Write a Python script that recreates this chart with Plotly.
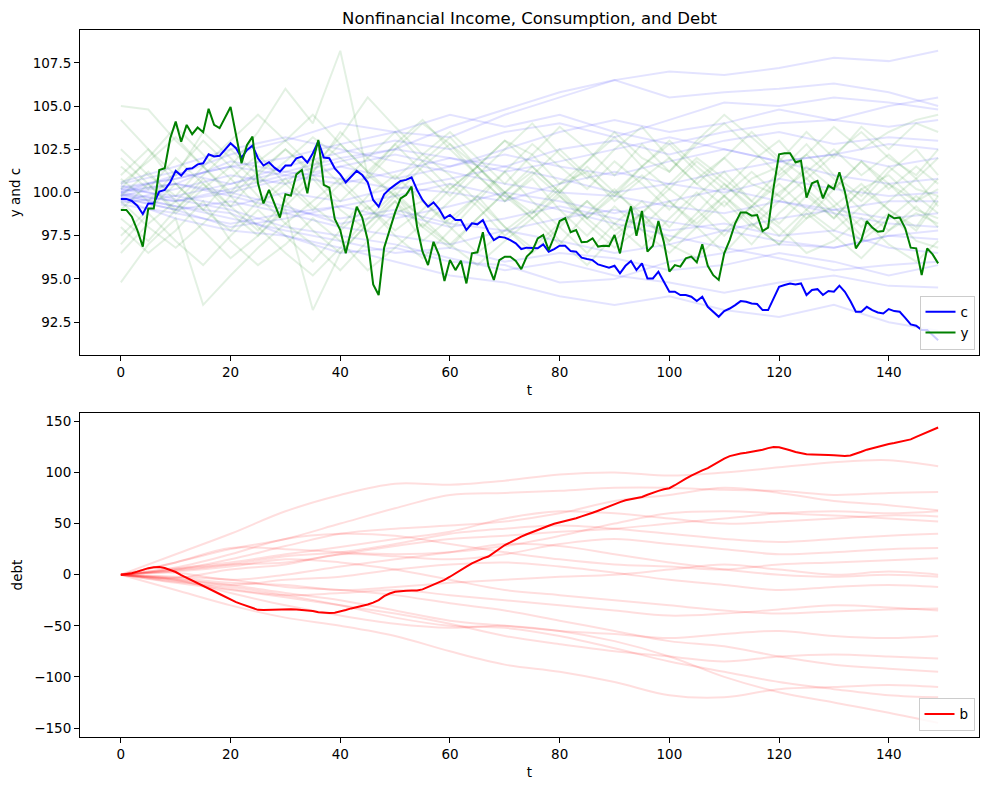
import plotly.graph_objects as go

# ---------------- data ----------------
t = list(range(150))

c = [99.63, 99.63, 99.51, 99.24, 98.76, 99.37, 99.37, 100.05, 100.15, 100.59,
     101.25, 100.98, 101.36, 101.40, 101.63, 101.69, 102.21, 102.08, 102.12, 102.46,
     102.85, 102.56, 102.02, 102.46, 102.71, 101.98, 101.56, 101.75, 101.44, 101.21,
     101.56, 101.56, 101.98, 102.08, 101.73, 102.27, 102.95, 102.02, 101.98, 101.40,
     101.05, 100.59, 100.92, 101.25, 101.01, 100.59, 99.57, 99.18, 99.90, 100.20,
     100.44, 100.67, 100.73, 100.88, 100.15, 99.57, 99.18, 99.43, 99.05, 98.51,
     98.70, 98.41, 98.41, 97.83, 98.22, 98.16, 98.41, 97.73, 97.25, 97.44,
     97.39, 97.25, 97.06, 96.73, 96.81, 96.81, 96.77, 97.00, 96.58, 96.73,
     96.92, 96.92, 96.61, 96.58, 96.23, 96.15, 96.09, 95.84, 95.76, 95.65,
     95.76, 95.32, 95.76, 96.04, 95.51, 95.90, 95.03, 95.03, 95.42, 94.84,
     94.26, 94.26, 94.07, 94.07, 93.97, 93.72, 93.97, 93.39, 93.10, 92.81,
     93.14, 93.29, 93.49, 93.72, 93.68, 93.58, 93.55, 93.20, 93.20, 93.87,
     94.55, 94.65, 94.74, 94.68, 94.74, 94.07, 94.36, 94.41, 94.07, 94.30,
     94.26, 94.61, 94.26, 93.72, 93.10, 93.10, 93.39, 93.20, 93.06, 93.00,
     93.26, 93.14, 93.10, 92.75, 92.37, 92.29, 92.04, 92.04, 91.75, 91.46]

y = [98.99, 98.99, 98.60, 97.83, 96.87, 99.08, 99.08, 101.30, 101.40, 103.14,
     104.10, 102.94, 103.91, 103.37, 103.76, 103.49, 104.84, 103.91, 103.72, 104.33,
     104.95, 103.33, 101.69, 102.75, 103.23, 100.53, 99.37, 100.15, 99.37, 98.55,
     99.90, 99.82, 101.05, 101.30, 99.95, 101.79, 103.04, 100.44, 100.28, 98.47,
     97.83, 96.48, 97.83, 99.18, 98.55, 97.25, 94.68, 94.07, 96.81, 97.83,
     98.85, 99.66, 99.86, 100.34, 98.02, 96.58, 95.80, 97.15, 96.38, 94.88,
     96.09, 95.51, 96.05, 94.74, 96.48, 96.54, 97.70, 95.76, 94.94, 96.09,
     96.29, 96.29, 96.04, 95.57, 96.29, 96.61, 97.35, 97.54, 96.67, 97.44,
     98.35, 98.51, 97.70, 97.83, 97.12, 97.15, 97.35, 96.87, 96.92, 96.90,
     97.54, 96.48, 98.06, 99.20, 97.50, 98.93, 96.58, 96.92, 98.35, 97.12,
     95.42, 95.80, 95.71, 96.19, 96.29, 95.96, 97.00, 95.76, 95.22, 94.94,
     96.48, 97.25, 98.22, 98.85, 98.85, 98.66, 98.70, 97.77, 97.97, 100.28,
     102.21, 102.27, 102.27, 101.75, 101.84, 99.70, 100.53, 100.67, 99.66, 100.40,
     100.20, 101.17, 100.05, 98.51, 96.77, 97.25, 98.35, 97.97, 97.73, 97.77,
     98.70, 98.51, 98.55, 97.93, 96.81, 96.77, 95.22, 96.77, 96.42, 95.90]

b = [0.0, 0.6, 1.5, 3.0, 4.8, 6.4, 7.3, 7.4, 6.5, 4.8,
     2.6, -0.5, -3.0, -5.8, -8.3, -10.8, -13.5, -16.2, -18.9, -21.6,
     -24.3, -26.8, -28.8, -30.8, -32.8, -34.4, -34.5, -34.3, -34.0, -33.6,
     -33.4, -33.7, -34.0, -34.3, -34.8, -35.6, -36.7, -37.4, -37.6, -37.2,
     -36.2, -34.6, -33.0, -31.8, -30.8, -29.2, -27.4, -24.8, -21.0, -18.4,
     -16.8, -16.0, -15.6, -15.4, -15.4, -14.4, -12.2, -9.8, -7.4, -5.0,
     -2.0, 1.0, 4.4, 7.8, 11.0, 13.6, 16.0, 17.8, 21.6, 25.8,
     29.0, 31.6, 34.6, 37.2, 39.6, 41.8, 43.8, 45.8, 47.9, 49.8,
     51.0, 52.3, 53.8, 55.2, 57.0, 58.6, 60.6, 62.6, 64.8, 66.8,
     69.0, 71.0, 72.8, 73.8, 74.8, 76.0, 78.2, 80.4, 82.0, 83.5,
     84.6, 87.5, 91.0, 94.0, 97.0, 99.8, 102.0, 104.3, 107.5, 110.6,
     113.6, 116.0, 117.6, 118.6, 119.4, 120.2, 121.0, 122.2, 123.8, 125.0,
     124.6, 123.5, 121.8, 120.0, 118.6, 117.8, 117.6, 117.6, 117.4, 117.1,
     116.8, 116.4, 116.0, 116.6, 118.2, 120.3, 122.3, 123.8, 125.2, 126.6,
     127.8, 128.8, 129.8, 130.7, 132.4, 134.8, 137.2, 139.6, 141.8, 144.0]

# faint background paths, sampled coarsely
t_bg10 = [0, 10, 20, 30, 40, 50, 60, 70, 80, 90, 100, 110, 120, 130, 140, 149]
t_bg5 = list(range(0, 150, 5)) + [149]

c_paths_bg = [
    [100.3, 100.8, 101.5, 102.0, 102.8, 103.5, 103.2, 104.5, 105.5, 106.5, 107.0, 106.8, 107.2, 107.8, 107.6, 108.2],
    [99.8, 100.5, 101.8, 101.2, 102.0, 102.5, 103.8, 104.8, 105.8, 106.5, 105.5, 105.8, 106.0, 106.3, 105.8, 105.0],
    [100.5, 101.2, 100.5, 101.5, 102.3, 103.0, 102.5, 103.5, 104.0, 103.2, 104.2, 105.2, 105.0, 105.5, 105.2, 104.8],
    [100.0, 99.5, 100.2, 101.0, 100.5, 101.2, 102.0, 101.5, 102.5, 103.0, 102.2, 103.0, 103.5, 102.8, 103.2, 103.0],
    [99.5, 100.2, 101.0, 100.5, 101.5, 100.8, 101.5, 102.2, 101.5, 101.0, 101.8, 102.5, 101.8, 102.2, 101.5, 102.0],
    [100.2, 99.8, 99.2, 100.0, 99.5, 100.3, 100.0, 99.5, 100.5, 101.2, 100.5, 100.0, 100.8, 100.2, 99.8, 100.0],
    [99.7, 99.0, 99.5, 98.8, 99.2, 98.5, 99.2, 100.0, 99.5, 98.8, 99.5, 100.2, 99.5, 99.0, 99.5, 99.5],
    [100.1, 100.5, 99.8, 99.0, 98.5, 99.0, 98.2, 97.8, 98.5, 99.0, 98.3, 97.8, 98.5, 99.0, 98.5, 98.8],
    [99.3, 98.8, 98.2, 98.8, 98.0, 97.5, 97.0, 97.8, 97.2, 96.5, 97.0, 97.8, 97.2, 96.8, 97.5, 97.3],
    [99.9, 99.2, 98.5, 97.8, 97.2, 96.5, 96.8, 96.0, 96.5, 96.2, 95.5, 95.8, 96.5, 96.0, 95.2, 95.8],
    [100.4, 99.6, 99.0, 98.0, 97.5, 97.0, 96.2, 95.5, 96.0, 95.2, 94.8, 94.2, 94.8, 95.2, 94.6, 94.5],
    [99.6, 98.5, 97.8, 97.5, 96.8, 96.0, 95.2, 94.8, 94.0, 93.5, 94.0, 93.2, 92.8, 93.5, 92.5, 92.0],
    [100.0, 101.0, 102.2, 103.0, 104.0, 103.5, 104.5, 103.8, 104.5, 103.5, 102.8, 103.5, 104.0, 104.2, 105.0, 105.5],
    [99.8, 99.2, 98.8, 97.5, 96.5, 96.8, 96.0, 95.8, 94.8, 95.0, 96.0, 96.5, 97.0, 96.8, 97.5, 97.8],
    [100.2, 100.8, 101.5, 101.0, 101.8, 102.5, 102.0, 101.2, 101.8, 102.5, 103.2, 102.5, 101.8, 102.2, 102.8, 102.5],
    [99.4, 99.8, 100.5, 101.2, 100.8, 100.2, 100.8, 101.5, 100.8, 100.0, 100.5, 101.2, 101.8, 101.0, 100.5, 100.8],
    [100.6, 101.5, 102.5, 103.2, 102.5, 101.8, 101.2, 100.5, 100.0, 99.8, 99.2, 98.8, 99.5, 98.8, 98.2, 98.0],
    [99.9, 99.5, 100.0, 99.2, 98.2, 98.8, 98.0, 98.5, 99.2, 98.5, 97.8, 98.2, 97.5, 97.8, 96.8, 96.5],
    [100.0, 100.5, 100.0, 100.8, 101.5, 102.2, 101.5, 102.5, 103.5, 104.2, 103.5, 104.0, 104.8, 104.2, 103.8, 104.2],
    [99.7, 99.0, 98.0, 98.5, 99.2, 99.8, 100.5, 99.8, 99.0, 98.2, 97.5, 96.8, 96.2, 95.5, 95.8, 96.0],
]

y_paths_bg = [
    [104.2, 102.5, 101.0, 103.5, 102.0, 100.5, 101.8, 103.2, 102.0, 100.8, 102.5, 104.0, 102.8, 101.5, 103.0, 102.2, 100.5, 101.8, 103.5, 102.0, 101.2, 102.8, 104.0, 102.5, 101.0, 102.2, 103.8, 102.5, 103.5, 104.2, 104.5],
    [105.0, 104.8, 103.0, 101.5, 99.8, 101.2, 102.5, 101.0, 99.5, 101.0, 99.8, 98.5, 100.2, 101.5, 100.0, 98.8, 100.5, 101.2, 99.5, 100.8, 102.0, 100.5, 99.2, 100.8, 101.5, 100.0, 98.5, 100.2, 101.0, 99.5, 100.2],
    [96.5, 98.2, 99.5, 97.8, 96.2, 97.5, 99.0, 93.2, 96.5, 98.2, 99.5, 97.2, 98.5, 99.8, 98.0, 96.8, 98.2, 99.5, 97.8, 98.8, 97.2, 98.5, 99.8, 98.2, 97.0, 98.5, 99.2, 97.5, 98.8, 97.2, 96.8],
    [94.8, 97.0, 98.5, 93.5, 95.2, 96.8, 98.2, 97.0, 95.5, 97.2, 98.8, 99.5, 98.0, 96.5, 97.8, 99.0, 97.2, 95.8, 97.5, 98.8, 97.0, 96.2, 97.8, 99.2, 98.0, 96.5, 97.2, 98.5, 97.0, 96.0, 97.2],
    [101.5, 100.2, 102.0, 100.5, 99.2, 101.0, 102.5, 101.2, 103.5, 102.0, 100.8, 102.2, 101.0, 99.5, 101.2, 102.8, 101.5, 100.2, 101.8, 100.5, 99.0, 100.8, 102.0, 100.5, 99.8, 101.5, 100.2, 101.8, 100.5, 99.5, 100.8],
    [99.0, 100.5, 98.8, 100.2, 101.5, 99.8, 98.2, 99.5, 100.8, 99.2, 97.8, 99.0, 100.5, 99.2, 97.5, 98.8, 100.2, 98.5, 99.8, 101.0, 99.5, 98.2, 99.8, 98.5, 100.0, 101.2, 99.5, 98.0, 99.5, 100.8, 99.2],
    [100.2, 102.0, 103.8, 102.2, 100.8, 99.2, 100.5, 102.0, 100.5, 99.0, 100.2, 101.8, 103.2, 101.5, 100.0, 101.2, 99.8, 98.5, 100.0, 101.5, 103.0, 101.5, 100.2, 101.8, 103.0, 101.2, 102.5, 101.0, 102.2, 100.8, 102.0],
    [98.0, 96.5, 97.8, 99.5, 97.2, 95.8, 97.0, 98.5, 97.2, 95.5, 96.8, 98.2, 97.0, 95.8, 97.2, 98.5, 99.8, 98.2, 96.8, 98.0, 99.5, 98.0, 96.5, 98.2, 97.0, 98.8, 97.5, 96.2, 97.8, 98.8, 98.2],
    [102.5, 101.0, 99.8, 101.5, 103.0, 104.5, 103.0, 101.5, 103.2, 105.5, 103.8, 102.2, 103.5, 102.0, 100.5, 102.2, 103.8, 102.5, 101.0, 102.8, 101.2, 103.0, 104.5, 103.2, 101.8, 103.5, 102.0, 103.8, 102.5, 104.0, 103.5],
    [97.5, 99.0, 100.5, 99.0, 97.8, 99.5, 100.8, 99.2, 98.0, 99.8, 101.0, 99.5, 98.2, 99.8, 101.2, 99.5, 98.0, 96.5, 98.2, 99.5, 98.0, 99.8, 101.2, 99.5, 98.2, 99.8, 98.5, 100.2, 99.0, 97.8, 99.5],
    [100.8, 99.5, 101.2, 103.0, 101.5, 103.5, 106.0, 104.0, 108.2, 101.0, 102.8, 101.2, 99.8, 101.5, 103.0, 101.5, 100.0, 101.8, 103.2, 101.5, 100.2, 101.8, 100.5, 99.2, 100.8, 102.2, 100.8, 99.5, 101.2, 102.5, 101.0],
    [99.5, 98.0, 96.8, 98.2, 99.8, 98.0, 96.5, 95.2, 96.8, 98.5, 100.0, 98.5, 97.0, 98.5, 100.0, 101.5, 100.0, 98.5, 97.2, 98.8, 100.2, 99.0, 97.5, 99.2, 100.5, 99.0, 97.8, 99.2, 100.5, 99.0, 98.5],
    [101.0, 102.5, 100.5, 99.0, 100.8, 102.2, 100.5, 99.0, 100.5, 102.0, 103.5, 101.8, 100.2, 101.5, 99.8, 98.5, 100.0, 101.5, 100.0, 98.8, 100.5, 102.0, 100.8, 99.5, 101.2, 102.8, 101.0, 99.8, 101.5, 100.2, 99.8],
    [98.5, 97.2, 99.0, 100.5, 98.8, 97.5, 99.2, 100.8, 99.0, 97.8, 99.5, 98.0, 96.8, 98.5, 100.0, 98.5, 97.0, 98.8, 100.2, 98.5, 97.2, 98.8, 100.5, 99.0, 97.5, 99.0, 100.5, 99.0, 97.8, 99.2, 98.0],
    [100.5, 101.8, 103.2, 101.5, 100.0, 101.8, 103.0, 104.5, 102.8, 101.2, 102.8, 104.2, 102.5, 101.0, 102.5, 104.0, 102.2, 100.8, 102.5, 103.8, 102.0, 100.5, 102.0, 103.5, 102.0, 100.8, 102.2, 103.5, 102.0, 101.0, 102.5],
    [97.0, 98.8, 97.2, 95.8, 97.5, 99.0, 97.5, 96.0, 97.8, 99.2, 97.5, 96.2, 97.8, 99.5, 98.0, 96.5, 98.0, 99.5, 98.2, 96.8, 98.5, 100.0, 98.5, 97.0, 98.8, 100.2, 98.8, 97.2, 98.5, 99.8, 98.8],
    [99.8, 101.2, 99.5, 101.0, 102.5, 101.0, 99.5, 101.2, 102.8, 101.2, 99.8, 101.5, 102.8, 101.0, 99.5, 101.0, 102.5, 101.0, 99.8, 101.5, 102.8, 101.2, 99.8, 101.2, 99.8, 98.5, 100.2, 101.8, 100.2, 101.5, 100.5],
    [102.0, 100.5, 99.0, 100.8, 99.2, 97.8, 99.5, 97.8, 96.5, 98.2, 99.8, 98.0, 99.5, 101.0, 99.5, 100.8, 99.0, 97.5, 99.2, 97.8, 96.5, 98.0, 99.5, 98.0, 99.5, 100.8, 99.2, 100.5, 99.0, 98.0, 99.8],
]

b_paths_bg = [
    [0, 20, 40, 62, 78, 89, 88, 92, 98, 100, 97, 100, 105, 110, 112, 106],
    [0, 12, 25, 35, 50, 65, 78, 80, 82, 85, 85, 83, 82, 78, 80, 81],
    [0, 5, 15, 28, 40, 45, 48, 52, 60, 72, 78, 85, 80, 72, 68, 63],
    [0, 6, 12, 20, 27, 35, 42, 55, 62, 60, 55, 50, 52, 55, 58, 57],
    [0, 12, 26, 25, 22, 20, 22, 28, 38, 50, 60, 62, 60, 58, 55, 52],
    [0, 4, 10, 18, 22, 30, 40, 45, 48, 45, 40, 35, 32, 35, 38, 40],
    [0, -3, 5, 10, 20, 18, 15, 20, 30, 35, 30, 25, 20, 22, 25, 26],
    [0, 7, 20, 35, 40, 38, 30, 22, 15, 10, 8, 5, 10, 12, 14, 16],
    [0, 2, -5, 0, 8, 15, 22, 30, 28, 20, 12, 5, 0, -2, 0, -2],
    [0, -4, -10, -5, -2, 5, 10, 12, 8, 2, -5, -10, -15, -12, -10, -12],
    [0, 3, 8, 15, 12, 5, -5, -15, -20, -25, -30, -35, -38, -36, -34, -33],
    [0, -6, -14, -20, -18, -15, -20, -25, -30, -35, -40, -38, -34, -30, -32, -35],
    [0, -5, -10, -18, -25, -35, -45, -50, -55, -58, -62, -58, -55, -60, -62, -60],
    [0, -8, -15, -22, -30, -38, -48, -60, -68, -75, -80, -85, -80, -78, -80, -82],
    [0, -2, -5, -12, -15, -20, -28, -35, -45, -55, -65, -70, -80, -88, -92, -95],
    [0, -15, -30, -42, -50, -60, -75, -88, -95, -105, -118, -120, -112, -110, -108, -110],
    [0, -7, -12, -20, -30, -42, -50, -52, -60, -72, -85, -95, -105, -112, -118, -120],
    [0, -5, -18, -30, -40, -48, -52, -50, -55, -65, -80, -100, -115, -125, -135, -145],
    [0, 5, 10, 12, 20, 28, 35, 38, 42, 45, 50, 55, 60, 62, 60, 62],
    [0, -3, -8, -10, -15, -12, -8, -5, -2, 0, 5, 10, 5, 0, 3, 0],
]

title_text = "Nonfinancial Income, Consumption, and Debt"

# ---------------- figure ----------------
FONT = "DejaVu Sans"
fig = go.Figure()

for p in c_paths_bg:
    fig.add_trace(go.Scatter(x=t_bg10, y=p, mode="lines", xaxis="x", yaxis="y",
                             line=dict(color="rgba(0,0,255,0.11)", width=2),
                             showlegend=False, hoverinfo="skip"))
for p in y_paths_bg:
    fig.add_trace(go.Scatter(x=t_bg5, y=p, mode="lines", xaxis="x", yaxis="y",
                             line=dict(color="rgba(0,128,0,0.11)", width=2),
                             showlegend=False, hoverinfo="skip"))
fig.add_trace(go.Scatter(x=t, y=c, mode="lines", name="c", xaxis="x", yaxis="y",
                         line=dict(color="#0000ff", width=2), legend="legend"))
fig.add_trace(go.Scatter(x=t, y=y, mode="lines", name="y", xaxis="x", yaxis="y",
                         line=dict(color="#008000", width=2), legend="legend"))

for p in b_paths_bg:
    fig.add_trace(go.Scatter(x=t_bg10, y=p, mode="lines", xaxis="x2", yaxis="y2",
                             line=dict(color="rgba(255,0,0,0.13)", width=2, shape="spline"),
                             showlegend=False, hoverinfo="skip"))
fig.add_trace(go.Scatter(x=t, y=b, mode="lines", name="b", xaxis="x2", yaxis="y2",
                         line=dict(color="#ff0000", width=2), legend="legend2"))

axis_common = dict(showgrid=False, zeroline=False, showline=True, mirror=True,
                   linecolor="black", linewidth=1, ticks="outside", ticklen=5,
                   tickcolor="black", tickwidth=1,
                   tickfont=dict(family=FONT, size=13.5, color="black"))

fig.update_layout(
    width=989, height=790,
    margin=dict(l=80, r=10, t=30, b=53),
    paper_bgcolor="white", plot_bgcolor="white",
    font=dict(family=FONT, size=13.5, color="black"),
    title=dict(text=title_text, x=0.5355, xanchor="center", y=1 - 18 / 790, yanchor="middle",
               font=dict(family=FONT, size=16.5, color="black")),
    xaxis=dict(domain=[0, 1], anchor="y", range=[-7.45, 156.45], dtick=20, tick0=0,
               title=dict(text="t", standoff=6, font=dict(family=FONT, size=13.5)), **axis_common),
    yaxis=dict(domain=[0.5403, 1], anchor="x", range=[90.6, 109.4], dtick=2.5, tick0=92.5,
               tickformat=".1f",
               title=dict(text="y and c", standoff=8, font=dict(family=FONT, size=13.5)), **axis_common),
    xaxis2=dict(domain=[0, 1], anchor="y2", range=[-7.45, 156.45], dtick=20, tick0=0,
                title=dict(text="t", standoff=6, font=dict(family=FONT, size=13.5)), **axis_common),
    yaxis2=dict(domain=[0, 0.4583], anchor="x2", range=[-158.8, 158.2], dtick=50, tick0=0,
                title=dict(text="debt", standoff=8, font=dict(family=FONT, size=13.5)), **axis_common),
    legend=dict(x=0.995, y=0.548, xanchor="right", yanchor="bottom",
                bgcolor="rgba(255,255,255,0.8)", bordercolor="#cccccc", borderwidth=1,
                font=dict(family=FONT, size=13.5), itemwidth=30, tracegroupgap=0),
    legend2=dict(x=0.995, y=0.009, xanchor="right", yanchor="bottom",
                 bgcolor="rgba(255,255,255,0.8)", bordercolor="#cccccc", borderwidth=1,
                 font=dict(family=FONT, size=13.5), itemwidth=30),
)

fig.write_html("out.html")
